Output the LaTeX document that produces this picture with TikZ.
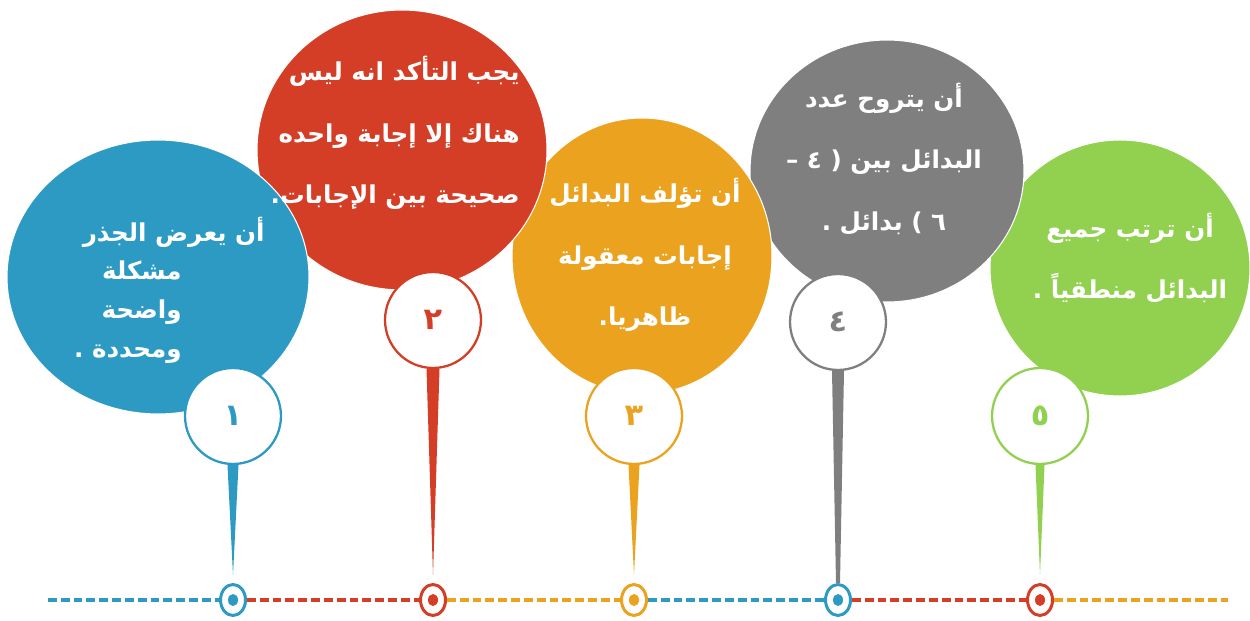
\documentclass[tikz,border=0pt]{standalone}
\usepackage{fontspec}
\newfontfamily\arabicfont[Script=Arabic]{DejaVu Sans}
\TeXXeTstate=1
\usetikzlibrary{shapes.geometric}

\definecolor{sblue}{HTML}{2C9AC3}
\definecolor{sred}{HTML}{D53E26}
\definecolor{sorange}{HTML}{EBA21E}
\definecolor{sgray}{HTML}{7F7F7F}
\definecolor{sgreen}{HTML}{92D050}

\tikzset{
    bubble/.style={ellipse, fill=#1, draw=white, line width=0.6pt, inner sep=0pt},
    pinhead/.style={circle, draw=#1, fill=white, line width=1.3pt, minimum size=1.92cm,
        inner sep=0pt, text=#1, font=\arabicfont\bfseries\LARGE},
    stopmark/.style={ellipse, draw=#1, fill=white, line width=1.7pt, minimum width=0.5cm,
        minimum height=0.62cm, inner sep=0pt},
    dashline/.style={draw=#1, line width=2.3pt, dash pattern=on 5pt off 2.3pt},
    bubbletext/.style={text=white, font=\arabicfont\bfseries\fontsize{14}{35}\selectfont, inner sep=0pt}
}

\begin{document}
\begin{tikzpicture}[x=0.02cm, y=-0.02cm]
    \useasboundingbox (0,0) rectangle (1250,621);

    % big bubbles
    \node[bubble=sgreen, minimum width=5.2cm, minimum height=5.12cm] (b5) at (1120,268) {};
    \node[bubble=sgray, minimum width=5.48cm, minimum height=5.24cm] (b4) at (887,171) {};
    \node[bubble=sorange, minimum width=5.2cm, minimum height=5.52cm] (b3) at (642,256) {};
    \node[bubble=sred, minimum width=5.8cm, minimum height=5.6cm] (b2) at (402,150) {};
    \node[bubble=sblue, minimum width=6.04cm, minimum height=5.48cm] (b1) at (158,277) {};

    % timeline stops
    \node[stopmark=sblue] (m1) at (233,600) {};
    \node[stopmark=sred] (m2) at (433,600) {};
    \node[stopmark=sorange] (m3) at (634,600) {};
    \node[stopmark=sblue] (m4) at (838,600) {};
    \node[stopmark=sred] (m5) at (1040,600) {};
    \fill[sblue] (m1) ellipse [x radius=5, y radius=6];
    \fill[sred] (m2) ellipse [x radius=5, y radius=6];
    \fill[sorange] (m3) ellipse [x radius=5, y radius=6];
    \fill[sblue] (m4) ellipse [x radius=5, y radius=6];
    \fill[sred] (m5) ellipse [x radius=5, y radius=6];

    \coordinate (lstart) at (48,600);
    \coordinate (lend) at (1228,600);
    \draw[dashline=sblue] (lstart) -- (m1.west);
    \draw[dashline=sred] (m1.east) -- (m2.west);
    \draw[dashline=sorange] (m2.east) -- (m3.west);
    \draw[dashline=sblue] (m3.east) -- (m4.west);
    \draw[dashline=sred] (m4.east) -- (m5.west);
    \draw[dashline=sorange] (m5.east) -- (lend);

    % pin heads
    \node[pinhead=sblue] (p1) at (233,416) {١};
    \node[pinhead=sred] (p2) at (433,320) {٢};
    \node[pinhead=sorange] (p3) at (634,416) {٣};
    \node[pinhead=sgray] (p4) at (838,322) {٤};
    \node[pinhead=sgreen] (p5) at (1040,416) {٥};

    % pin tails
    \fill[sblue] ([xshift=-0.11cm]p1.south) -- ([xshift=0.11cm]p1.south) -- ([yshift=0.16cm]m1.north) -- cycle;
    \fill[sred] ([xshift=-0.13cm]p2.south) -- ([xshift=0.13cm]p2.south) -- ([yshift=0.16cm]m2.north) -- cycle;
    \fill[sorange] ([xshift=-0.11cm]p3.south) -- ([xshift=0.11cm]p3.south) -- ([yshift=0.16cm]m3.north) -- cycle;
    \fill[sgray] ([xshift=-0.12cm]p4.south) -- ([xshift=0.12cm]p4.south) -- ([xshift=0.04cm]m4.north) -- ([xshift=-0.04cm]m4.north) -- cycle;
    \fill[sgreen] ([xshift=-0.09cm]p5.south) -- ([xshift=0.09cm]p5.south) -- ([yshift=0.16cm]m5.north) -- cycle;

    % texts
    \node[bubbletext, align=right, anchor=east, font=\arabicfont\bfseries\fontsize{14}{22}\selectfont] (t1) at (265,290)
        {\beginR أن يعرض الجذر\endR\\
         \beginR مشكلة\endR\rule{1.66cm}{0pt}\\
         \beginR واضحة\endR\rule{1.66cm}{0pt}\\
         \beginR ومحددة .\endR\rule{1.66cm}{0pt}};
    \node[bubbletext, align=right, anchor=east] (t2) at (520,133)
        {\beginR يجب التأكد انه ليس\endR\\
         \beginR هناك إلا إجابة واحده\endR\\
         \beginR صحيحة بين الإجابات.\endR};
    \node[bubbletext, align=center] (t3) at (645,255)
        {\beginR أن تؤلف البدائل\endR\\
         \beginR إجابات معقولة\endR\\
         \beginR ظاهريا.\endR};
    \node[bubbletext, align=center] (t4) at (884,159)
        {\beginR أن يتروح عدد\endR\\
         \beginR البدائل بين ( ٤ –\endR\\
         \beginR ٦ ) بدائل .\endR};
    \node[bubbletext, align=center] (t5) at (1130,258)
        {\beginR أن ترتب جميع\endR\\
         \beginR البدائل منطقياً .\endR};

\end{tikzpicture}
\end{document}
